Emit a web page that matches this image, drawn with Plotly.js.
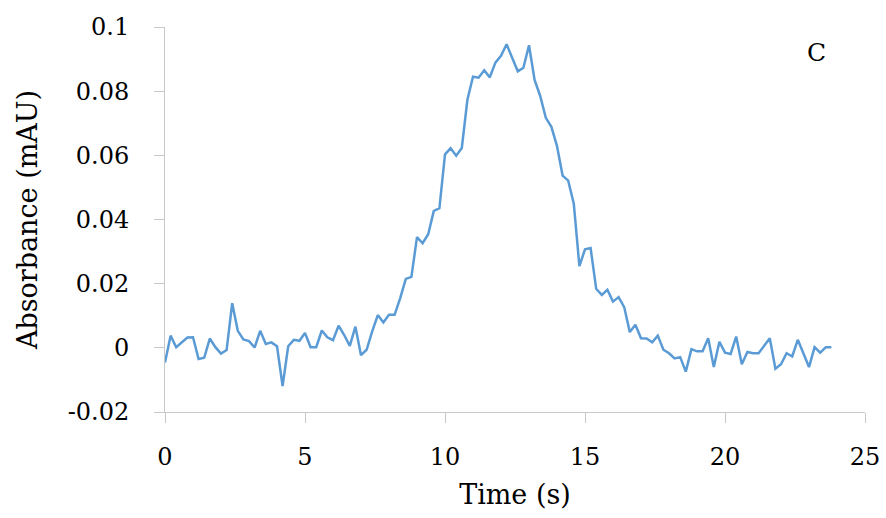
<!DOCTYPE html>
<html>
<head>
<meta charset="utf-8">
<script src="https://cdn.plot.ly/plotly-3.0.1.min.js"></script>
<style>html,body{margin:0;padding:0;background:#fff;}#chart{width:886px;height:518px;}</style>
</head>
<body>
<div id="chart"></div>
<script>
// Time (s), sampled every 0.2 s
const timeS = [
  0.0,0.2,0.4,0.6,0.8,1.0,1.2,1.4,1.6,1.8,
  2.0,2.2,2.4,2.6,2.8,3.0,3.2,3.4,3.6,3.8,
  4.0,4.2,4.4,4.6,4.8,5.0,5.2,5.4,5.6,5.8,
  6.0,6.2,6.4,6.6,6.8,7.0,7.2,7.4,7.6,7.8,
  8.0,8.2,8.4,8.6,8.8,9.0,9.2,9.4,9.6,9.8,
  10.0,10.2,10.4,10.6,10.8,11.0,11.2,11.4,11.6,11.8,
  12.0,12.2,12.4,12.6,12.8,13.0,13.2,13.4,13.6,13.8,
  14.0,14.2,14.4,14.6,14.8,15.0,15.2,15.4,15.6,15.8,
  16.0,16.2,16.4,16.6,16.8,17.0,17.2,17.4,17.6,17.8,
  18.0,18.2,18.4,18.6,18.8,19.0,19.2,19.4,19.6,19.8,
  20.0,20.2,20.4,20.6,20.8,21.0,21.2,21.4,21.6,21.8,
  22.0,22.2,22.4,22.6,22.8,23.0,23.2,23.4,23.6,23.8
];
// Absorbance (mAU)
const absorbance = [
  -0.0046,0.0038,0.0002,0.0017,0.0032,0.0033,-0.0035,-0.0031,0.0029,0.0002,
  -0.0018,-0.0007,0.0139,0.0053,0.0026,0.0021,0.0001,0.0053,0.0012,0.0017,
  0.0005,-0.0119,0.0005,0.0025,0.0022,0.0046,0.0002,0.0002,0.0054,0.0033,
  0.0024,0.0069,0.0040,0.0006,0.0066,-0.0023,-0.0006,0.0051,0.0102,0.0079,
  0.0103,0.0103,0.0155,0.0215,0.0221,0.0345,0.0326,0.0354,0.0427,0.0435,
  0.0603,0.0622,0.0599,0.0623,0.0773,0.0845,0.0842,0.0865,0.0843,0.0889,
  0.0910,0.0946,0.0904,0.0862,0.0873,0.0943,0.0835,0.0785,0.0717,0.0689,
  0.0629,0.0537,0.0521,0.0449,0.0255,0.0307,0.0311,0.0184,0.0165,0.0181,
  0.0144,0.0158,0.0127,0.0049,0.0072,0.0030,0.0029,0.0017,0.0038,-0.0006,
  -0.0017,-0.0033,-0.0029,-0.0074,-0.0004,-0.0011,-0.0011,0.0030,-0.0060,0.0019,
  -0.0015,-0.0019,0.0035,-0.0051,-0.0013,-0.0017,-0.0017,0.0006,0.0030,-0.0065,
  -0.0051,-0.0017,-0.0027,0.0025,-0.0019,-0.0060,0.0002,-0.0015,0.0002,0.0002
];
const xTickVals = [0,5,10,15,20,25];
const xTickText = ["0","5","10","15","20","25"];
const yTickVals = [-0.02,0,0.02,0.04,0.06,0.08,0.1];
const yTickText = ["-0.02","0","0.02","0.04","0.06","0.08","0.1"];
const panelLabel = "C";

const fontFam = "DejaVu Serif, serif";
const axisGray = "#c8c8c8";

const trace = {
  x: timeS, y: absorbance, type: "scatter", mode: "lines",
  line: {color: "#5B9BD5", width: 2.5}, hoverinfo: "skip"
};

const layout = {
  width: 886, height: 518,
  margin: {l: 165, r: 21, t: 27, b: 106},
  paper_bgcolor: "#fff", plot_bgcolor: "#fff",
  showlegend: false,
  font: {family: fontFam, size: 24, color: "#000"},
  xaxis: {
    range: [0, 25], tickvals: xTickVals, ticktext: xTickText,
    showgrid: false, zeroline: false, showline: true, linecolor: axisGray, linewidth: 1,
    ticks: "outside", ticklen: 10, tickcolor: axisGray, tickwidth: 1,
    tickfont: {family: fontFam, size: 24, color: "#000"},
    ticklabelstandoff: 13,
    title: {text: "Time (s)", font: {family: fontFam, size: 27, color: "#000"}, standoff: 15}
  },
  yaxis: {
    range: [-0.02, 0.1], tickvals: yTickVals, ticktext: yTickText,
    showgrid: false, zeroline: false, showline: true, linecolor: axisGray, linewidth: 1,
    ticks: "outside", ticklen: 10, tickcolor: axisGray, tickwidth: 1,
    tickfont: {family: fontFam, size: 24, color: "#000"},
    ticklabelstandoff: 20,
    title: {text: "Absorbance (mAU)", font: {family: fontFam, size: 27, color: "#000"}, standoff: 22}
  },
  annotations: [{
    text: panelLabel, xref: "paper", yref: "paper", x: 0.931, y: 0.935,
    xanchor: "center", yanchor: "middle", showarrow: false,
    font: {family: fontFam, size: 25, color: "#000"}
  }]
};

Plotly.newPlot("chart", [trace], layout, {staticPlot: true, displayModeBar: false});
</script>
</body>
</html>
